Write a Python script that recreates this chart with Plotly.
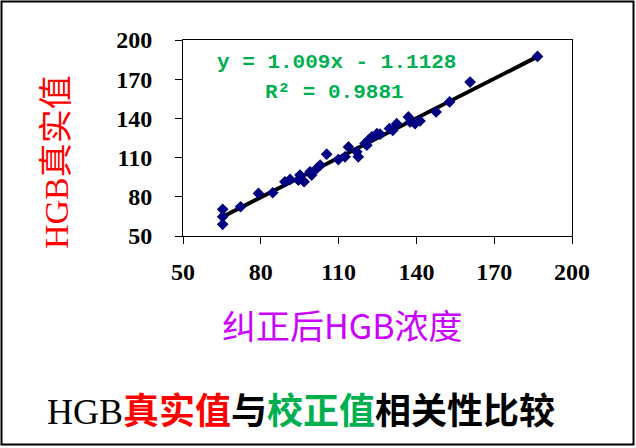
import plotly.graph_objects as go

# Data (corrected HGB vs true HGB)
corrected_hgb = [186.7, 160.7, 152.8, 147.6, 141.4, 139.5, 136.9, 137.6, 132.4, 130.9,
                 129.6, 126.0, 124.8, 122.8, 121.5, 120.9, 120.2, 117.6, 117.0, 113.8,
                 112.5, 109.9, 105.4, 102.9, 101.6, 99.6, 99.0, 96.7, 95.1, 94.5,
                 91.3, 89.3, 84.6, 79.1, 72.2, 65.3, 65.3, 65.3]
true_hgb = [187.4, 167.8, 152.6, 144.9, 138.1, 136.0, 141.1, 137.3, 136.0, 130.9,
            132.2, 127.9, 128.4, 125.8, 123.3, 119.5, 120.8, 110.6, 114.4, 118.2,
            110.6, 108.5, 112.6, 104.2, 101.7, 96.6, 99.1, 91.5, 96.6, 92.8,
            93.3, 91.5, 83.1, 82.6, 72.4, 70.4, 64.8, 58.9]
slope = 1.009
intercept = -1.1128
r_squared = 0.9881
tick_values = [50, 80, 110, 140, 170, 200]

x_title = "纠正后HGB浓度"
y_title = "HGB真实值"

xmin, xmax = min(corrected_hgb), max(corrected_hgb)
trend_x = [xmin, xmax]
trend_y = [slope * v + intercept for v in trend_x]

fig = go.Figure()
fig.add_trace(go.Scatter(x=trend_x, y=trend_y, mode="lines",
                         line=dict(color="black", width=4), hoverinfo="skip"))
fig.add_trace(go.Scatter(x=corrected_hgb, y=true_hgb, mode="markers",
                         marker=dict(symbol="diamond", size=9, color="#000080",
                                     line=dict(width=0))))

# plot area in pixels
L, R, T, B = 183, 572, 40, 236
W, H = 636, 448

def px(xp):
    return (xp - L) / (R - L)

def py(yp):
    return (B - yp) / (B - T)

axis_font = dict(family="Liberation Serif, serif", size=24, color="black", weight="bold")

fig.update_layout(
    width=W, height=H,
    margin=dict(l=L, r=W - R, t=T, b=H - B),
    paper_bgcolor="white", plot_bgcolor="white",
    showlegend=False,
    xaxis=dict(range=[50, 200], tickvals=tick_values, ticks="outside", ticklen=7,
               tickwidth=1, tickcolor="black", showline=True, linecolor="black",
               linewidth=1, mirror=True, showgrid=False, zeroline=False,
               tickfont=axis_font, ticklabelstandoff=7),
    yaxis=dict(range=[50, 200], tickvals=tick_values, ticks="outside", ticklen=7,
               tickwidth=1, tickcolor="black", showline=True, linecolor="black",
               linewidth=1, mirror=True, showgrid=False, zeroline=False,
               tickfont=axis_font, ticklabelstandoff=18),
    shapes=[dict(type="rect", xref="paper", yref="paper",
                 x0=px(1.5), x1=px(633.5), y0=py(444.5), y1=py(1.5),
                 line=dict(color="black", width=2), layer="below")],
)

eq_font = dict(family="Liberation Mono", size=21, color="#00B050", weight="bold")
fig.add_annotation(xref="paper", yref="paper", x=px(215), y=py(62),
                   xanchor="left", yanchor="middle", showarrow=False,
                   text=f"y = {slope}x - {abs(intercept)}", font=eq_font)
fig.add_annotation(xref="paper", yref="paper", x=px(263), y=py(92),
                   xanchor="left", yanchor="middle", showarrow=False,
                   text=f"R² = {r_squared}", font=eq_font)

fig.add_annotation(xref="paper", yref="paper", x=px(342), y=py(324),
                   xanchor="center", yanchor="middle", showarrow=False,
                   text=x_title,
                   font=dict(family="Noto Sans CJK SC", size=34, color="#CC00FF"))
fig.add_annotation(xref="paper", yref="paper", x=px(56), y=py(162),
                   xanchor="center", yanchor="middle", showarrow=False, textangle=-90,
                   text=y_title,
                   font=dict(family="Liberation Serif, Noto Sans CJK SC", size=34, color="#FF0000"))

title_text = ("<span style='font-family:Liberation Serif;font-weight:normal'>HGB</span>"
              "<span style='color:#FF0000'>真实值</span>与"
              "<span style='color:#00B050'>校正值</span>相关性比较")
fig.add_annotation(xref="paper", yref="paper", x=px(301), y=py(408),
                   xanchor="center", yanchor="middle", showarrow=False,
                   text=title_text,
                   font=dict(family="Noto Sans CJK SC", size=36, color="black", weight="bold"))

fig.write_html("out.html", config={"displayModeBar": False},
               post_script="document.body.style.margin='0';")
